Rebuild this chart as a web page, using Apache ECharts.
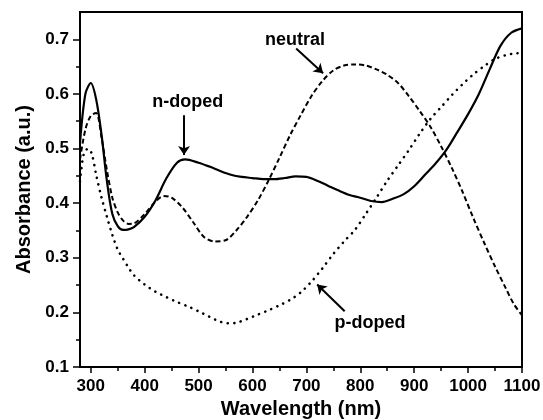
<!DOCTYPE html>
<html>
<head>
<meta charset="utf-8">
<script src="https://cdn.jsdelivr.net/npm/echarts@6/dist/echarts.min.js"></script>
<style>
  html, body { margin: 0; padding: 0; background: #fff; }
  #chart { width: 543px; height: 420px; }
</style>
</head>
<body>
<div id="chart"></div>
<script>
// Absorption spectra (wavelength in nm, absorbance in a.u.)
const nDopedWl = [280, 290, 300, 310, 320, 330, 340, 350, 360, 370, 380, 400, 420, 440, 460, 475, 500, 520, 540, 560, 580, 600, 620, 640, 660, 680, 700, 720, 740, 760, 780, 800, 820, 840, 860, 880, 900, 920, 940, 960, 980, 1000, 1020, 1040, 1060, 1080, 1100];
const nDopedAbs = [0.51, 0.60, 0.62, 0.59, 0.525, 0.44, 0.38, 0.358, 0.351, 0.352, 0.356, 0.375, 0.405, 0.445, 0.474, 0.480, 0.474, 0.467, 0.459, 0.452, 0.448, 0.446, 0.444, 0.444, 0.446, 0.449, 0.448, 0.441, 0.432, 0.423, 0.415, 0.410, 0.404, 0.402, 0.408, 0.416, 0.431, 0.452, 0.473, 0.498, 0.530, 0.563, 0.600, 0.645, 0.688, 0.712, 0.720];

const neutralWl = [280, 290, 300, 310, 320, 330, 340, 350, 360, 370, 380, 400, 420, 435, 450, 470, 490, 510, 530, 550, 570, 590, 610, 630, 650, 670, 690, 710, 730, 750, 770, 790, 810, 830, 850, 870, 890, 910, 930, 950, 970, 990, 1010, 1030, 1050, 1070, 1085, 1100];
const neutralAbs = [0.48, 0.535, 0.56, 0.565, 0.52, 0.46, 0.41, 0.383, 0.368, 0.362, 0.363, 0.380, 0.403, 0.413, 0.410, 0.392, 0.365, 0.338, 0.330, 0.332, 0.350, 0.375, 0.405, 0.442, 0.483, 0.525, 0.562, 0.597, 0.624, 0.643, 0.652, 0.654, 0.652, 0.645, 0.635, 0.620, 0.596, 0.569, 0.540, 0.504, 0.464, 0.420, 0.372, 0.327, 0.284, 0.244, 0.215, 0.195];

const pDopedWl = [280, 287, 295, 302, 310, 320, 330, 340, 350, 360, 370, 380, 400, 420, 440, 460, 480, 500, 520, 540, 555, 570, 590, 610, 630, 650, 670, 690, 710, 730, 750, 770, 790, 810, 830, 850, 870, 890, 910, 930, 950, 970, 990, 1010, 1030, 1050, 1070, 1085, 1100];
const pDopedAbs = [0.44, 0.49, 0.50, 0.49, 0.452, 0.41, 0.375, 0.342, 0.315, 0.298, 0.282, 0.268, 0.251, 0.238, 0.228, 0.219, 0.211, 0.202, 0.192, 0.183, 0.180, 0.181, 0.188, 0.196, 0.204, 0.213, 0.223, 0.237, 0.257, 0.281, 0.307, 0.330, 0.351, 0.380, 0.410, 0.441, 0.469, 0.497, 0.527, 0.554, 0.576, 0.598, 0.618, 0.636, 0.651, 0.664, 0.671, 0.674, 0.675];

// Axis ticks
const xTicks = [300, 400, 500, 600, 700, 800, 900, 1000, 1100];
const xMinorTicks = [350, 450, 550, 650, 750, 850, 950, 1050];
const yTicks = [0.1, 0.2, 0.3, 0.4, 0.5, 0.6, 0.7];
const yMinorTicks = [0.15, 0.25, 0.35, 0.45, 0.55, 0.65];

// Curve annotations: label text, label anchor, arrow start, arrow tip
const noteText = ['n-doped', 'neutral', 'p-doped'];
const notePos = [[480, 0.586], [679, 0.699], [818, 0.181]];
const arrowFrom = [[473, 0.561], [681, 0.683], [771, 0.202]];
const arrowTo = [[473, 0.488], [731, 0.638], [720, 0.251]];

const FONT = '"Liberation Sans", Arial, Helvetica, sans-serif';
const pairs = (xs, ys) => xs.map((x, i) => [x, ys[i]]);

const X_MIN = 280, X_MAX = 1100, Y_MIN = 0.1, Y_MAX = 0.75;

function majorAxis(kind) {
  const isX = kind === 'x';
  return {
    type: 'value',
    min: isX ? X_MIN : Y_MIN,
    max: isX ? X_MAX : Y_MAX,
    position: isX ? 'bottom' : 'left',
    splitLine: { show: false },
    axisLine: { show: true, onZero: false, lineStyle: { color: '#000', width: 2 } },
    axisTick: {
      show: true, inside: false, length: isX ? 6 : 7,
      customValues: isX ? xTicks : yTicks,
      lineStyle: { color: '#000', width: 1.5 }
    },
    axisLabel: {
      show: true,
      customValues: isX ? xTicks : yTicks,
      margin: 11,
      color: '#000',
      fontFamily: FONT,
      fontWeight: 'bold',
      fontSize: 17,
      formatter: v => isX ? String(v) : v.toFixed(1)
    },
    name: isX ? 'Wavelength (nm)' : 'Absorbance (a.u.)',
    nameLocation: 'middle',
    nameGap: isX ? 29 : 45,
    nameTextStyle: { color: '#000', fontFamily: FONT, fontWeight: 'bold', fontSize: 20 }
  };
}

function minorAxis(kind) {
  const isX = kind === 'x';
  return {
    type: 'value',
    min: isX ? X_MIN : Y_MIN,
    max: isX ? X_MAX : Y_MAX,
    position: isX ? 'bottom' : 'left',
    splitLine: { show: false },
    axisLine: { show: false, onZero: false },
    axisTick: {
      show: true, inside: false, length: 4,
      customValues: isX ? xMinorTicks : yMinorTicks,
      lineStyle: { color: '#000', width: 1.5 }
    },
    axisLabel: { show: false },
    name: ''
  };
}

const chart = echarts.init(document.getElementById('chart'), null, { renderer: 'canvas' });

const lineSeries = (name, data, lineStyle) => ({
  name, type: 'line', data, smooth: 0.3,
  showSymbol: false, symbol: 'none',
  lineStyle: Object.assign({ color: '#000', width: 2 }, lineStyle),
  silent: true, animation: false, z: 3
});

chart.setOption({
  animation: false,
  backgroundColor: '#fff',
  grid: {
    left: 80, right: 21, top: 12, bottom: 53,
    show: true, borderColor: '#000', borderWidth: 2, backgroundColor: 'transparent',
    containLabel: false, outerBoundsMode: 'none'
  },
  xAxis: [majorAxis('x'), minorAxis('x')],
  yAxis: [majorAxis('y'), minorAxis('y')],
  series: [
    lineSeries('n-doped', pairs(nDopedWl, nDopedAbs), { type: 'solid', width: 2.2 }),
    lineSeries('neutral', pairs(neutralWl, neutralAbs), { type: [5, 3], width: 2 }),
    lineSeries('p-doped', pairs(pDopedWl, pDopedAbs), { type: [0.1, 6.5], cap: 'round', width: 2.6 }),
    {
      name: 'notes', type: 'scatter', data: [], silent: true, animation: false,
      markLine: {
        silent: true, animation: false,
        symbol: ['none', 'arrow'], symbolSize: 9,
        label: { show: false },
        lineStyle: { color: '#000', width: 2, type: 'solid' },
        data: arrowFrom.map((p, i) => [{ coord: p }, { coord: arrowTo[i] }])
      },
      markPoint: {
        silent: true, animation: false,
        symbol: 'circle', symbolSize: 0,
        itemStyle: { color: 'transparent' },
        label: {
          show: true, position: 'inside',
          color: '#000', fontFamily: FONT, fontWeight: 'bold', fontSize: 18,
          formatter: p => p.name
        },
        data: notePos.map((p, i) => ({ name: noteText[i], coord: p }))
      }
    }
  ]
});
</script>
</body>
</html>
